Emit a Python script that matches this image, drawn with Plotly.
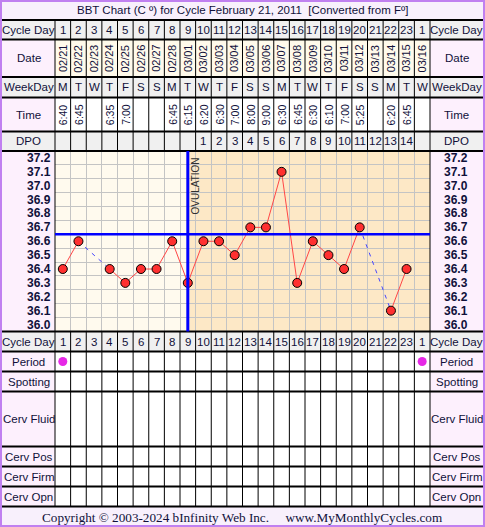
import plotly.graph_objects as go

W, H = 485, 527

# data
cycle_days = [str(i) for i in range(1, 24)] + ["1"]
dates = ["02/21", "02/22", "02/23", "02/24", "02/25", "02/26", "02/27", "02/28",
         "03/01", "03/02", "03/03", "03/04", "03/05", "03/06", "03/07", "03/08",
         "03/09", "03/10", "03/11", "03/12", "03/13", "03/14", "03/15", "03/16"]
weekdays = ["M", "T", "W", "T", "F", "S", "S", "M", "T", "W", "T", "F",
            "S", "S", "M", "T", "W", "T", "F", "S", "S", "M", "T", "W"]
times = ["6:40", "6:45", "", "6:35", "7:00", "", "", "6:45", "6:15", "6:20", "6:30", "7:00",
         "8:00", "9:00", "6:30", "6:45", "6:30", "6:10", "7:00", "5:25", "", "6:20", "6:45", ""]
dpo = ["", "", "", "", "", "", "", "", "", "1", "2", "3", "4", "5", "6", "7",
       "8", "9", "10", "11", "12", "13", "14", ""]
temps = [36.4, 36.6, None, 36.4, 36.3, 36.4, 36.4, 36.6, 36.3, 36.6, 36.6, 36.5,
         36.7, 36.7, 37.1, 36.3, 36.6, 36.5, 36.4, 36.7, None, 36.1, 36.4, None]
temp_ticks = [37.2, 37.1, 37.0, 36.9, 36.8, 36.7, 36.6, 36.5, 36.4, 36.3, 36.2, 36.1, 36.0]
coverline = 36.65
ovulation_day = 9
period_days = [1, 24]

title = "BBT Chart (C º) for Cycle February 21, 2011&nbsp;&nbsp;[Converted from Fº]"
footer = "Copyright © 2003-2024 bInfinity Web Inc.\u00a0\u00a0\u00a0\u00a0\u00a0www.MyMonthlyCycles.com"

days = list(range(1, len(cycle_days) + 1))

FONT = "Liberation Sans, Arial, sans-serif"
TXT = "#10103a"
GRAY = "#f0f0f0"
PINK = "#fdf0fd"
CREAM = "#fffaeb"
PURPLE = "#c080f0"

L0, L1, R0, R1 = 2, 55, 430, 483   # label columns in px


def px(v):
    return v / W


def py(v):
    return 1 - v / H


def note(**kw):
    kw.setdefault("xanchor", "center")
    kw.setdefault("yanchor", "middle")
    kw.setdefault("showarrow", False)
    return kw


# rows: label, top, bottom, label bg, cell bg
rows = [
    ("Cycle Day", 20, 39.5, GRAY, GRAY),
    ("Date", 39.5, 77, PINK, CREAM),
    ("WeekDay", 77, 97.5, GRAY, GRAY),
    ("Time", 97.5, 131.5, PINK, "white"),
    ("DPO", 131.5, 151, GRAY, GRAY),
    ("Cycle Day", 331.5, 351.5, GRAY, GRAY),
    ("Period", 351.5, 371.5, PINK, "white"),
    ("Spotting", 371.5, 391.5, PINK, "white"),
    ("Cerv Fluid", 391.5, 446.5, PINK, "white"),
    ("Cerv Pos", 446.5, 466.5, PINK, "white"),
    ("Cerv Firm", 466.5, 486.5, PINK, "white"),
    ("Cerv Opn", 486.5, 506.5, PINK, "white"),
]
chart_top, chart_bot = 151, 331.5

fig = go.Figure()

# dashed connectors across missing days
valid = [i for i, t in enumerate(temps) if t is not None]
for a, b in zip(valid[:-1], valid[1:]):
    if b - a > 1:
        fig.add_trace(go.Scatter(x=[days[a], days[b]], y=[temps[a], temps[b]], mode="lines",
                                 line=dict(color="#4646ff", width=1, dash="4px,5px"),
                                 hoverinfo="skip", showlegend=False))

fig.add_trace(go.Scatter(x=days, y=temps, mode="lines+markers", connectgaps=False,
                         line=dict(color="#ff4646", width=1),
                         marker=dict(size=9, color="#ff3030", line=dict(color="black", width=1)),
                         showlegend=False))

fig.add_trace(go.Scatter(x=period_days, y=[0.5] * len(period_days), mode="markers",
                         marker=dict(size=9, color="#e628e6"), xaxis="x2", yaxis="y2",
                         showlegend=False))

shapes = []
annotations = []

# backgrounds
shapes.append(dict(type="rect", xref="paper", yref="paper", x0=px(1), x1=px(484),
                   y0=py(1), y1=py(20), fillcolor="#f8f0fc", line_width=0, layer="below"))
shapes.append(dict(type="rect", xref="paper", yref="paper", x0=px(1), x1=px(484),
                   y0=py(506.5), y1=py(526), fillcolor="#f8f0fc", line_width=0, layer="below"))
for lab, top, bot, lbg, cbg in rows:
    shapes.append(dict(type="rect", xref="x", yref="paper", x0=0.5, x1=len(days) + 0.5,
                       y0=py(bot), y1=py(top), fillcolor=cbg, line_width=0, layer="below"))
    for a, b in ((L0, L1), (R0, R1)):
        shapes.append(dict(type="rect", xref="paper", yref="paper", x0=px(a), x1=px(b),
                           y0=py(bot), y1=py(top), fillcolor=lbg, line_width=0, layer="below"))
        annotations.append(note(x=px((a + b) / 2), y=py((top + bot) / 2), xref="paper", yref="paper",
                                text=lab, font=dict(size=11.5, color=TXT)))
for a, b in ((L0, L1), (R0, R1)):
    shapes.append(dict(type="rect", xref="paper", yref="paper", x0=px(a), x1=px(b),
                       y0=py(chart_bot), y1=py(chart_top), fillcolor=PINK, line_width=0, layer="below"))

# chart shading
shapes.append(dict(type="rect", xref="x", yref="y domain", x0=0.5, x1=ovulation_day, y0=0, y1=1,
                   fillcolor="#fffaee", line_width=0, layer="below"))
shapes.append(dict(type="rect", xref="x", yref="y domain", x0=ovulation_day, x1=len(days) + 0.5,
                   y0=0, y1=1, fillcolor="#fde8c6", line_width=0, layer="below"))

# table lines
for k in range(1, len(days)):
    for top, bot in ((20, chart_top), (chart_bot, 506.5)):
        shapes.append(dict(type="line", xref="x", yref="paper", x0=k + 0.5, x1=k + 0.5,
                           y0=py(top), y1=py(bot), line=dict(color="black", width=1)))
for xx in (L1, R0):
    shapes.append(dict(type="line", xref="paper", yref="paper", x0=px(xx), x1=px(xx),
                       y0=py(20), y1=py(506.5), line=dict(color="black", width=1)))
for yy in (20, 39.5, 77, 97.5, 131.5, 151, 331.5, 351.5, 371.5, 391.5, 446.5, 466.5, 486.5, 506.5):
    shapes.append(dict(type="line", xref="paper", yref="paper", x0=px(L0), x1=px(R1),
                       y0=py(yy), y1=py(yy), line=dict(color="black", width=2)))

# coverline and ovulation
shapes.append(dict(type="line", xref="x domain", yref="y", x0=0, x1=1, y0=coverline, y1=coverline,
                   line=dict(color="#0000ff", width=2.5)))
shapes.append(dict(type="line", xref="x", yref="y domain", x0=ovulation_day, x1=ovulation_day,
                   y0=0, y1=1, line=dict(color="#0000ff", width=3)))
annotations.append(note(x=ovulation_day, y=37.0, xref="x", yref="y", xshift=8, text="OVULATION",
                        textangle=-90, font=dict(size=10, color="#303030")))

# outer border
shapes.append(dict(type="rect", xref="paper", yref="paper", x0=px(1), x1=px(484), y0=py(526), y1=py(1),
                   line=dict(color=PURPLE, width=2)))

# cell text
for d, cd, dt, wd, tm, dp in zip(days, cycle_days, dates, weekdays, times, dpo):
    for cy in (29.75, 341.5):
        annotations.append(note(x=d, y=py(cy), xref="x", yref="paper", text=cd,
                                font=dict(size=11.5, color=TXT)))
    annotations.append(note(x=d, y=py(58.25), xref="x", yref="paper", text=dt, textangle=-90,
                            font=dict(size=11, color=TXT)))
    annotations.append(note(x=d, y=py(87.25), xref="x", yref="paper", text=wd,
                            font=dict(size=11.5, color=TXT)))
    if tm:
        annotations.append(note(x=d, y=py(114.5), xref="x", yref="paper", text=tm, textangle=-90,
                                font=dict(size=10.5, color=TXT)))
    if dp:
        annotations.append(note(x=d, y=py(141.25), xref="x", yref="paper", text=dp,
                                font=dict(size=11.5, color=TXT)))

for t in temp_ticks:
    annotations.append(note(x=px(53), y=t, xref="paper", yref="y", text="<b>%.1f</b>" % t,
                            xanchor="right", font=dict(size=12, color=TXT)))
    annotations.append(note(x=px(456), y=t, xref="paper", yref="y", text="<b>%.1f</b>" % t,
                            font=dict(size=12, color=TXT)))

annotations.append(note(x=px(242), y=py(10.5), xref="paper", yref="paper", text=title,
                        font=dict(size=11.5, color=TXT)))
annotations.append(note(x=px(242), y=py(517), xref="paper", yref="paper", text=footer,
                        font=dict(size=13.2, color=TXT,
                                  family="Liberation Serif, Times New Roman, serif")))

grid_y = [round(t - 0.05, 2) for t in temp_ticks[:-1]]
fig.update_layout(
    width=W, height=H, margin=dict(l=0, r=0, t=0, b=0),
    paper_bgcolor="white", plot_bgcolor="rgba(0,0,0,0)",
    font=dict(family=FONT),
    xaxis=dict(domain=[px(L1), px(R0)], range=[0.5, len(days) + 0.5],
               tickvals=[k + 0.5 for k in range(1, len(days))], showticklabels=False,
               showgrid=True, gridcolor="#c4c4c4", gridwidth=1, zeroline=False, ticks=""),
    yaxis=dict(domain=[py(chart_bot), py(chart_top)], range=[35.95, 37.25],
               tickvals=grid_y, showticklabels=False, showgrid=True, gridcolor="#c4c4c4",
               gridwidth=1, zeroline=False, ticks=""),
    xaxis2=dict(domain=[px(L1), px(R0)], range=[0.5, len(days) + 0.5], visible=False, anchor="y2"),
    yaxis2=dict(domain=[py(371.5), py(351.5)], range=[0, 1], visible=False, anchor="x2"),
    shapes=shapes, annotations=annotations,
)

# page body margin would shift the figure off the window
fig.write_html("out.html", config={"displayModeBar": False},
               post_script="document.body.style.margin='0';")
